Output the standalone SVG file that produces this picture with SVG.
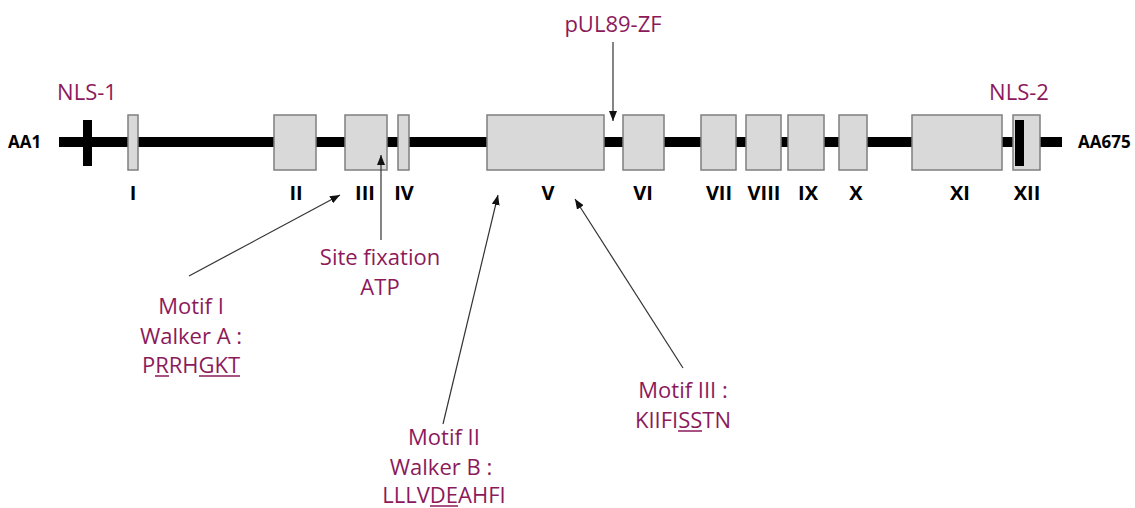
<svg xmlns="http://www.w3.org/2000/svg" width="1135" height="508" viewBox="0 0 1135 508">
<style>
.box{fill:#D9D9D9;stroke:#7F7F7F;stroke-width:1.5}
.lab{font-family:"Open Sans","Noto Sans",sans-serif;font-size:22px;fill:#8C1A5B;text-anchor:middle}
.rom{font-family:"Open Sans","Noto Sans",sans-serif;font-size:20px;font-weight:bold;fill:#000;text-anchor:middle}
.aa{font-family:"Open Sans","Noto Sans",sans-serif;font-size:17px;font-weight:bold;fill:#000}
.arr{stroke:#333;stroke-width:1.2;fill:none;marker-end:url(#ah)}
.ul{stroke:#8C1A5B;stroke-width:1.5}
</style>
<defs>
<marker id="ah" markerUnits="userSpaceOnUse" markerWidth="11" markerHeight="8" refX="10" refY="4" orient="auto">
<path d="M0,0 L10,4 L0,8 z" fill="#111"/>
</marker>
</defs>
<rect width="1135" height="508" fill="#fff"/>
<g id="backbone">
<rect x="59" y="137" width="1003" height="10" fill="#000"/>
<text class="aa" x="8" y="148">AA1</text>
<text class="aa" x="1078" y="148">AA675</text>
</g>
<g id="nls1">
<rect x="83" y="120" width="9" height="46" fill="#000"/>
<text class="lab" x="87" y="100">NLS-1</text>
</g>
<g id="box-I"><rect class="box" x="128" y="115" width="10" height="55"/><text class="rom" x="133" y="200">I</text></g>
<g id="box-II"><rect class="box" x="274" y="115" width="42" height="55"/><text class="rom" x="296" y="200">II</text></g>
<g id="box-III"><rect class="box" x="345" y="115" width="42" height="55"/><text class="rom" x="365" y="200">III</text></g>
<g id="box-IV"><rect class="box" x="398" y="115" width="11" height="55"/><text class="rom" x="404" y="200">IV</text></g>
<g id="box-V"><rect class="box" x="487" y="115" width="117" height="55"/><text class="rom" x="548" y="200">V</text></g>
<g id="box-VI"><rect class="box" x="623" y="115" width="41" height="55"/><text class="rom" x="643" y="200">VI</text></g>
<g id="box-VII"><rect class="box" x="701" y="115" width="35" height="55"/><text class="rom" x="719" y="200">VII</text></g>
<g id="box-VIII"><rect class="box" x="746" y="115" width="35" height="55"/><text class="rom" x="764" y="200">VIII</text></g>
<g id="box-IX"><rect class="box" x="788" y="115" width="36" height="55"/><text class="rom" x="808" y="200">IX</text></g>
<g id="box-X"><rect class="box" x="839" y="115" width="28" height="55"/><text class="rom" x="856" y="200">X</text></g>
<g id="box-XI"><rect class="box" x="912" y="115" width="90" height="55"/><text class="rom" x="960" y="200">XI</text></g>
<g id="box-XII"><rect class="box" x="1013" y="115" width="27" height="55"/><rect x="1015" y="120" width="9" height="46" fill="#000"/><text class="rom" x="1027" y="200">XII</text></g>
<g id="nls2"><text class="lab" x="1019" y="100">NLS-2</text></g>
<g id="zf"><text class="lab" x="613" y="32">pUL89-ZF</text></g>
<g id="atp"><text class="lab" x="380" y="265">Site fixation</text><text class="lab" x="380" y="295">ATP</text></g>
<g id="motif1">
<text class="lab" x="191" y="314">Motif I</text>
<text class="lab" x="191" y="344">Walker A :</text>
<text class="lab" x="191" y="373">PRRHGKT</text>
<line class="ul" x1="155" y1="376" x2="169" y2="376"/>
<line class="ul" x1="199" y1="376" x2="240" y2="376"/>
</g>
<g id="motif2">
<text class="lab" x="444" y="445">Motif II</text>
<text class="lab" x="441" y="475">Walker B :</text>
<text class="lab" x="444" y="503">LLLVDEAHFI</text>
<line class="ul" x1="430" y1="506" x2="458" y2="506"/>
</g>
<g id="motif3">
<text class="lab" x="683" y="398">Motif III :</text>
<text class="lab" x="683" y="428">KIIFISSTN</text>
<line class="ul" x1="678" y1="431" x2="702" y2="431"/>
</g>
<g id="connectors">
<line class="arr" x1="613" y1="42" x2="613" y2="121"/>
<line class="arr" x1="381" y1="240" x2="381" y2="155"/>
<line class="arr" x1="189" y1="276" x2="340" y2="195"/>
<line class="arr" x1="443" y1="424" x2="498" y2="195"/>
<line class="arr" x1="683" y1="368" x2="575" y2="199"/>
</g>
</svg>
